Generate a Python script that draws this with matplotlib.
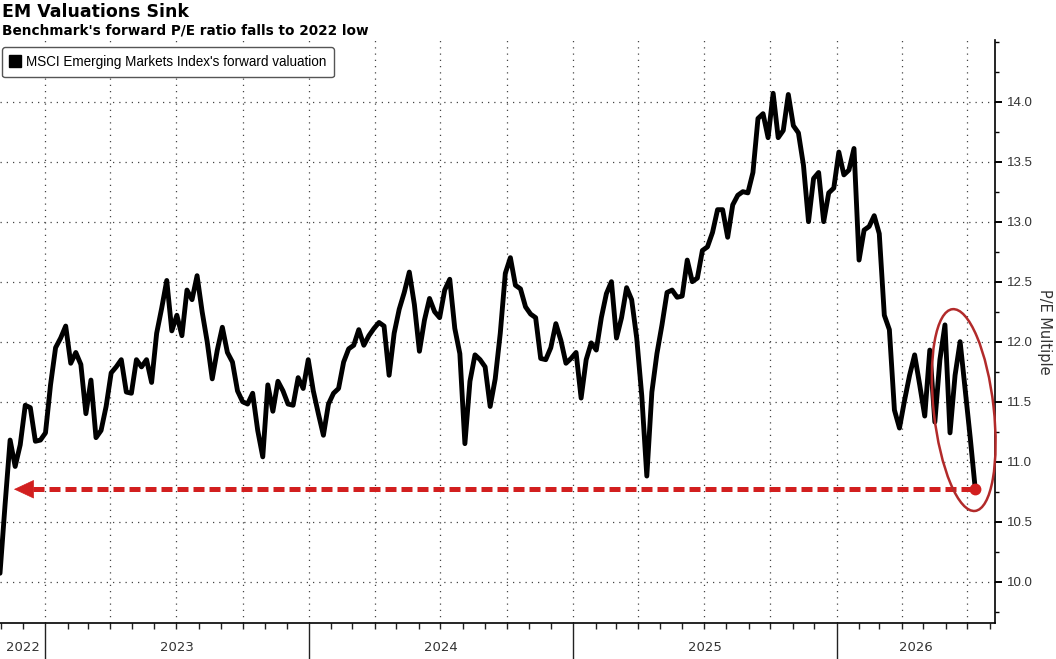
import numpy as np
import pandas as pd
import matplotlib
matplotlib.use("Agg")
import matplotlib.pyplot as plt
import matplotlib.dates as mdates
import matplotlib.transforms as mtransforms
from matplotlib.patches import Ellipse
from matplotlib.lines import Line2D

# ---------------- data ----------------
title = "EM Valuations Sink"
subtitle = "Benchmark's forward P/E ratio falls to 2022 low"
legend_label = "MSCI Emerging Markets Index's forward valuation"
y_label = "P/E Multiple"
year_labels = ["2022", "2023", "2024", "2025", "2026"]
y_ticks = [10.0, 10.5, 11.0, 11.5, 12.0, 12.5, 13.0, 13.5, 14.0]

start_date = "2022-10-30"   # weekly observations
pe_values = [
    10.07, 10.64, 11.18, 10.96, 11.14, 11.47, 11.45, 11.17, 11.18, 11.24,
    11.64, 11.95, 12.03, 12.13, 11.82, 11.91, 11.81, 11.40, 11.68, 11.20,
    11.26, 11.46, 11.74, 11.79, 11.85, 11.58, 11.57, 11.85, 11.79, 11.85,
    11.66, 12.07, 12.28, 12.51, 12.09, 12.22, 12.05, 12.43, 12.35, 12.55,
    12.25, 12.00, 11.69, 11.93, 12.12, 11.91, 11.83, 11.59, 11.50, 11.48,
    11.57, 11.26, 11.04, 11.64, 11.42, 11.67, 11.59, 11.48, 11.47, 11.70,
    11.61, 11.85, 11.59, 11.40, 11.22, 11.48, 11.57, 11.61, 11.83, 11.94,
    11.97, 12.10, 11.97, 12.05, 12.11, 12.16, 12.13, 11.72, 12.07, 12.27,
    12.41, 12.58, 12.31, 11.92, 12.18, 12.36, 12.25, 12.20, 12.43, 12.52,
    12.11, 11.90, 11.15, 11.67, 11.89, 11.85, 11.79, 11.46, 11.69, 12.07,
    12.57, 12.70, 12.47, 12.44, 12.29, 12.23, 12.20, 11.86, 11.85, 11.95,
    12.15, 12.01, 11.82, 11.86, 11.91, 11.53, 11.85, 11.99, 11.93, 12.20,
    12.40, 12.50, 12.03, 12.20, 12.45, 12.35, 12.03, 11.55, 10.88, 11.58,
    11.90, 12.14, 12.41, 12.43, 12.37, 12.38, 12.68, 12.50, 12.53, 12.76,
    12.79, 12.91, 13.10, 13.10, 12.87, 13.14, 13.22, 13.25, 13.24, 13.41,
    13.86, 13.90, 13.70, 14.07, 13.70, 13.76, 14.06, 13.80, 13.74, 13.47,
    13.00, 13.36, 13.41, 13.00, 13.24, 13.28, 13.58, 13.39, 13.43, 13.61,
    12.68, 12.93, 12.96, 13.05, 12.90, 12.22, 12.10, 11.43, 11.28, 11.51,
    11.72, 11.89, 11.64, 11.38, 11.93, 11.33, 11.85, 12.14, 11.24, 11.72,
    12.00, 11.60, 11.20, 10.77,
]
dates = pd.date_range(start_date, periods=len(pe_values), freq="7D")
date_nums = mdates.date2num(dates.to_pydatetime())

x_start = pd.Timestamp("2022-10-30")
x_end = pd.Timestamp("2026-08-09")
y_min, y_max = 9.658, 14.514

RED = "#d21f1f"
DARK_RED = "#b22a2a"

# ---------------- figure ----------------
fig = plt.figure(figsize=(10.56, 6.59), dpi=100, facecolor="white")
ax = fig.add_axes([0.0, 0.0551, 0.9427, 0.8842])
ax.set_facecolor("white")
ax.xaxis_date()

ax.plot(date_nums, pe_values, color="black", lw=3.5, solid_joinstyle="round",
        solid_capstyle="round", zorder=4)

xs_num = mdates.date2num(x_start.to_pydatetime())
xe_num = mdates.date2num(x_end.to_pydatetime())
ax.set_xlim(xs_num, xe_num)
ax.set_ylim(y_min, y_max)

# spines
for s in ["left", "top"]:
    ax.spines[s].set_visible(False)
ax.spines["right"].set_linewidth(1.2)
ax.spines["bottom"].set_linewidth(1.2)

# y axis on right
ax.yaxis.tick_right()
ax.yaxis.set_label_position("right")
ax.set_yticks(y_ticks)
ax.set_yticklabels([f"{v:.1f}" for v in y_ticks])
ax.yaxis.set_minor_locator(matplotlib.ticker.MultipleLocator(0.25))
ax.tick_params(axis="y", which="major", direction="out", length=5, width=1.4,
               pad=3, labelsize=9.5, labelcolor="#333333")
ax.tick_params(axis="y", which="minor", direction="out", length=3, width=1.0)
for lab in ax.get_yticklabels():
    lab.set_fontfamily(["Liberation Sans", "DejaVu Sans"])
ax.set_ylabel(y_label, rotation=270, fontsize=10.5, labelpad=14,
              color="#333333", family=["DejaVu Sans"])

ax.yaxis.grid(True, which="major", linestyle=(0, (1, 4)), color="#444444",
              lw=0.9)

# x axis: yearly long separators, monthly small ticks
ax.xaxis.set_major_locator(mdates.YearLocator())
ax.xaxis.set_minor_locator(mdates.MonthLocator())
ax.xaxis.set_major_formatter(matplotlib.ticker.NullFormatter())
ax.xaxis.set_minor_formatter(matplotlib.ticker.NullFormatter())
ax.tick_params(axis="x", which="major", direction="out", length=27, width=1.0,
               color="#222222")
ax.tick_params(axis="x", which="minor", direction="out", length=4, width=1.0,
               color="#222222")

# quarterly dotted grid
for q in pd.date_range("2023-01-01", x_end, freq="QS"):
    ax.axvline(mdates.date2num(q.to_pydatetime()), linestyle=(0, (1, 4)),
               color="#444444", lw=0.9, zorder=1)

# year labels centred in visible part of each year
for lab in year_labels:
    a = max(mdates.date2num(pd.Timestamp(f"{lab}-01-01").to_pydatetime()), xs_num)
    b = min(mdates.date2num(pd.Timestamp(f"{int(lab)+1}-01-01").to_pydatetime()), xe_num)
    ax.text((a + b) / 2, -0.0418, lab, transform=ax.get_xaxis_transform(),
            ha="center", va="center", fontsize=9.5, color="#333333",
            family=["Liberation Sans Narrow", "DejaVu Sans"])

# legend
handle = Line2D([], [], marker="s", ls="None", color="black", markersize=8)
leg = ax.legend([handle], [legend_label], loc="upper left",
                bbox_to_anchor=(0.002, 0.988), borderaxespad=0,
                frameon=True, fancybox=True, handlelength=0.7,
                handletextpad=0.45, borderpad=0.6,
                prop={"family": ["Liberation Sans", "DejaVu Sans"], "size": 9.75})
leg.get_frame().set_edgecolor("#555555")
leg.get_frame().set_linewidth(1.0)
leg.get_frame().set_alpha(1)

# titles
fig.text(0.002, 1 - 3 / 659, title, ha="left", va="top", fontsize=12.5,
         fontweight="bold", color="black", family="DejaVu Sans")
fig.text(0.002, 1 - 23 / 659, subtitle, ha="left", va="top", fontsize=9.8,
         fontweight="bold", color="black", family="DejaVu Sans")

# annotation: dashed arrow back to 2022 level
last_num, last_val = date_nums[-1], pe_values[-1]
dash_start = xs_num + 0.0335 * (xe_num - xs_num)
ax.plot([dash_start, last_num], [last_val, last_val], color=RED, lw=3.6,
        linestyle=(0, (2.2, 1.0)), dash_capstyle="butt", zorder=5)
ax.annotate("", xy=(0.014, last_val), xycoords=("axes fraction", "data"),
            xytext=(14.5, 0), textcoords="offset points",
            arrowprops=dict(arrowstyle="-|>,head_length=0.45,head_width=0.21",
                            mutation_scale=30, color=RED, lw=0.5,
                            shrinkA=0, shrinkB=0), zorder=5)
ax.plot([last_num], [last_val], marker="o", ms=7.5, color=RED, zorder=6)

# ellipse around recent drop
ell_center = mdates.date2num(pd.Timestamp("2026-06-26").to_pydatetime())
trans = fig.dpi_scale_trans + mtransforms.ScaledTranslation(
    ell_center, 11.43, ax.transData)
ell = Ellipse((0, 0), 0.60, 2.03, angle=6.4, transform=trans, fill=False,
              edgecolor=DARK_RED, lw=1.8, clip_on=False, zorder=7)
fig.add_artist(ell)

fig.savefig("out.png", dpi=100, facecolor="white")
